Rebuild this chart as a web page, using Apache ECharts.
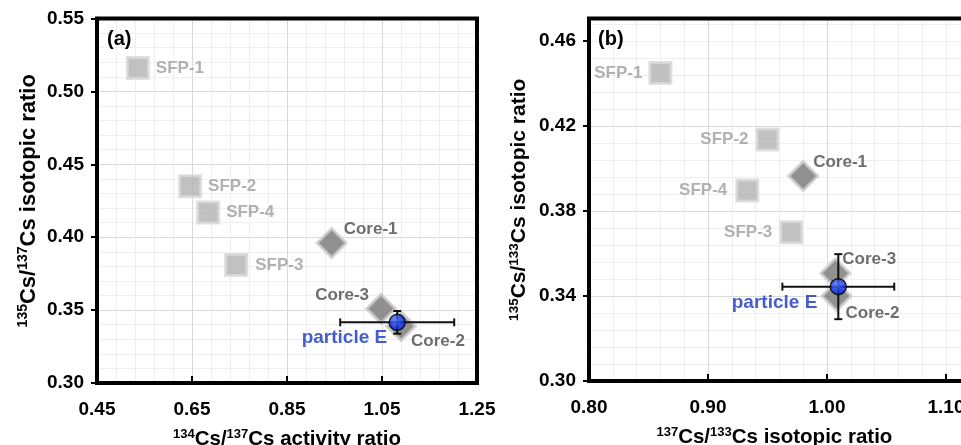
<!DOCTYPE html>
<html><head><meta charset="utf-8">
<script src="https://cdn.jsdelivr.net/npm/echarts@6/dist/echarts.min.js"></script>
<style>html,body{margin:0;padding:0;background:#fff}#c{width:961px;height:445px}</style>
</head><body><div id="c"></div><script>
// ---------- Panel (a): 134Cs/137Cs activity ratio vs 135Cs/137Cs isotopic ratio ----------
const namesA = ['SFP-1', 'SFP-2', 'SFP-4', 'SFP-3', 'Core-1', 'Core-3', 'Core-2'];
const xA = [0.536, 0.646, 0.684, 0.743, 0.944, 1.048, 1.090];
const yA = [0.516, 0.435, 0.417, 0.381, 0.396, 0.351, 0.339];
const particleA = [1.082, 0.3416];
const particleErrA = [0.12, 0.0078];
const xTicksA = [0.45, 0.65, 0.85, 1.05, 1.25];
const yTicksA = [0.30, 0.35, 0.40, 0.45, 0.50, 0.55];

// ---------- Panel (b): 137Cs/133Cs isotopic ratio vs 135Cs/133Cs isotopic ratio ----------
const namesB = ['SFP-1', 'SFP-2', 'SFP-4', 'SFP-3', 'Core-1', 'Core-3', 'Core-2'];
const xB = [0.860, 0.950, 0.933, 0.970, 0.980, 1.007, 1.008];
const yB = [0.445, 0.4137, 0.3896, 0.370, 0.3965, 0.3507, 0.340];
const particleB = [1.0095, 0.3444];
const particleErrB = [0.047, 0.0153];
const xTicksB = [0.80, 0.90, 1.00, 1.10];
const xMaxB = 1.12;
const yTicksB = [0.30, 0.34, 0.38, 0.42, 0.46];
const yMaxB = 0.4706;

const particleName = 'particle E';

// ---------- label placement (style, not data) ----------
const labPosA = {
  'SFP-1': ['left', 18, 0], 'SFP-2': ['left', 18, 0], 'SFP-4': ['left', 18, 0], 'SFP-3': ['left', 19, 0],
  'Core-1': ['left', 12, -14], 'Core-3': ['right', -12, -13], 'Core-2': ['left', 10, 15],
  'particle E': ['right', -10, 15]
};
const labPosB = {
  'SFP-1': ['right', -18, 0], 'SFP-2': ['right', -19, 0], 'SFP-4': ['right', -20, 0], 'SFP-3': ['right', -19, 0],
  'Core-1': ['left', 10, -14], 'Core-3': ['left', 7, -14], 'Core-2': ['left', 9, 17],
  'particle E': ['right', -21, 16]
};

const FONT = '"Liberation Sans", Arial, Helvetica, sans-serif';

function fmt(v) { return v.toFixed(2); }
function onTick(ticks) { return v => (ticks.some(t => Math.abs(t - v) < 1e-6) ? fmt(v) : ''); }

function buildPoints(names, xs, ys, pos, prefix) {
  const out = [];
  names.forEach((n, i) => {
    if (!n.startsWith(prefix)) return;
    const p = pos[n];
    out.push({
      name: n, value: [xs[i], ys[i]],
      label: { align: p[0], offset: [p[1], p[2]] }
    });
  });
  return out;
}

function xIdx(gi) { return gi === 0 ? 0 : 2; }
function yIdx(gi) { return gi === 0 ? 0 : 2; }

function sqSeries(gi, names, xs, ys, pos) {
  return {
    type: 'scatter', xAxisIndex: xIdx(gi), yAxisIndex: yIdx(gi),
    symbol: 'rect', symbolSize: 21,
    itemStyle: { color: '#b2b2b2', borderColor: '#d8d8d8', borderWidth: 3 },
    label: { show: true, position: 'inside', verticalAlign: 'middle', formatter: '{b}',
      fontFamily: FONT, fontWeight: 'bold', fontSize: 17, color: '#9e9e9e' },
    emphasis: { disabled: true },
    data: buildPoints(names, xs, ys, pos, 'SFP'), z: 3
  };
}
function dmSeries(gi, names, xs, ys, pos) {
  return {
    type: 'scatter', xAxisIndex: xIdx(gi), yAxisIndex: yIdx(gi),
    symbol: 'diamond', symbolSize: 29,
    itemStyle: { color: '#767676', borderColor: '#cdcdcd', borderWidth: 3 },
    label: { show: true, position: 'inside', verticalAlign: 'middle', formatter: '{b}',
      fontFamily: FONT, fontWeight: 'bold', fontSize: 17, color: '#4a4a4a' },
    emphasis: { disabled: true },
    data: buildPoints(names, xs, ys, pos, 'Core'), z: 3
  };
}
function errSeries(gi, p, e) {
  return {
    type: 'custom', xAxisIndex: xIdx(gi), yAxisIndex: yIdx(gi),
    coordinateSystem: 'cartesian2d',
    data: [[p[0], p[1], e[0], e[1]]],
    encode: { x: 0, y: 1 },
    z: 4, silent: true,
    renderItem: function (params, api) {
      const x = api.value(0), y = api.value(1), ex = api.value(2), ey = api.value(3);
      const l = api.coord([x - ex, y]), r = api.coord([x + ex, y]);
      const t = api.coord([x, y + ey]), b = api.coord([x, y - ey]);
      const cap = 4;
      const st = { stroke: '#111', lineWidth: 2, fill: null };
      const line = (x1, y1, x2, y2) => ({ type: 'line', shape: { x1, y1, x2, y2 }, style: st });
      return { type: 'group', children: [
        line(l[0], l[1], r[0], r[1]),
        line(l[0], l[1] - cap, l[0], l[1] + cap),
        line(r[0], r[1] - cap, r[0], r[1] + cap),
        line(t[0], t[1], b[0], b[1]),
        line(t[0] - cap, t[1], t[0] + cap, t[1]),
        line(b[0] - cap, b[1], b[0] + cap, b[1])
      ]};
    }
  };
}
function particleSeries(gi, p, pos) {
  const lp = pos[particleName];
  return {
    type: 'scatter', xAxisIndex: xIdx(gi), yAxisIndex: yIdx(gi),
    symbol: 'circle', symbolSize: 16,
    itemStyle: {
      color: { type: 'radial', x: 0.4, y: 0.35, r: 0.7,
        colorStops: [{ offset: 0, color: '#5b7cff' }, { offset: 0.6, color: '#1437f0' }, { offset: 1, color: '#0a22b8' }] },
      borderColor: '#000', borderWidth: 1.5
    },
    label: { show: true, position: 'inside', verticalAlign: 'middle', formatter: '{b}',
      fontFamily: FONT, fontWeight: 'bold', fontSize: 19, color: '#1533c4' },
    emphasis: { disabled: true },
    data: [{ name: particleName, value: p, label: { align: lp[0], offset: [lp[1], lp[2]] } }],
    z: 5
  };
}

const tickLabel = { fontFamily: FONT, fontWeight: 'bold', fontSize: 19, color: '#000' };
function nameStyle(size, sup, extra) {
  return Object.assign({
    fontFamily: FONT, fontWeight: 'bold', fontSize: size, color: '#000',
    rich: {
      s: { fontFamily: FONT, fontWeight: 'bold', fontSize: sup, color: '#000', verticalAlign: 'top', lineHeight: size + 3 },
      m: { fontFamily: FONT, fontWeight: 'bold', fontSize: size, color: '#000', lineHeight: size + 3 }
    }
  }, extra || {});
}
const majorSplit = { show: true, showMinLine: false, showMaxLine: false, lineStyle: { color: '#d9d9d9', width: 1 } };
const minorSplit = { show: true, lineStyle: { color: '#efefef', width: 1 } };
const minorHelper = { show: true, showMinLine: false, showMaxLine: false, lineStyle: { color: '#efefef', width: 1 } };
const xTick = { show: true, inside: true, length: 7, lineStyle: { color: '#000', width: 2 } };
const yTick = { show: true, inside: false, length: 6, lineStyle: { color: '#000', width: 2 } };

const option = {
  animation: false,
  backgroundColor: '#fff',
  grid: [
    { left: 97, top: 18.5, width: 380, height: 364.5, show: true, backgroundColor: 'transparent',
      borderColor: '#000', borderWidth: 4, z: 10, outerBoundsMode: 'none', containLabel: false },
    { left: 589, top: 18.5, width: 380.8, height: 362.5, show: true, backgroundColor: 'transparent',
      borderColor: '#000', borderWidth: 4, z: 10, outerBoundsMode: 'none', containLabel: false }
  ],
  xAxis: [
    { type: 'value', gridIndex: 0, position: 'bottom', min: xTicksA[0], max: xTicksA[xTicksA.length - 1],
      interval: xTicksA[1] - xTicksA[0],
      axisLine: { show: false }, axisTick: xTick,
      axisLabel: Object.assign({ margin: 17, formatter: fmt }, tickLabel),
      splitLine: majorSplit, minorTick: { show: false, splitNumber: 5 }, minorSplitLine: minorSplit,
      name: '{s|134}{m|Cs/}{s|137}{m|Cs activity ratio}', nameLocation: 'middle', nameGap: 45,
      nameTextStyle: nameStyle(20.5, 13) },
    // minor grid helper for panel (b) x
    { type: 'value', gridIndex: 1, position: 'bottom', min: xTicksB[0], max: xMaxB,
      interval: (xTicksB[1] - xTicksB[0]) / 5,
      axisLine: { show: false }, axisTick: { show: false }, axisLabel: { show: false },
      splitLine: minorHelper },
    { type: 'value', gridIndex: 1, position: 'bottom', min: xTicksB[0], max: xMaxB,
      interval: xTicksB[1] - xTicksB[0],
      axisLine: { show: false },
      axisTick: Object.assign({ customValues: xTicksB }, xTick),
      axisLabel: Object.assign({ margin: 17, customValues: xTicksB, formatter: onTick(xTicksB) }, tickLabel),
      splitLine: majorSplit,
      name: '{s|137}{m|Cs/}{s|133}{m|Cs isotopic ratio}', nameLocation: 'middle', nameGap: 45,
      nameTextStyle: nameStyle(20.5, 13, { padding: [0, 10, 0, 0] }) }
  ],
  yAxis: [
    { type: 'value', gridIndex: 0, position: 'left', min: yTicksA[0], max: yTicksA[yTicksA.length - 1],
      interval: yTicksA[1] - yTicksA[0],
      axisLine: { show: false }, axisTick: yTick,
      axisLabel: Object.assign({ margin: 13, formatter: fmt }, tickLabel),
      splitLine: majorSplit, minorTick: { show: false, splitNumber: 5 }, minorSplitLine: minorSplit,
      name: '{s|135}{m|Cs/}{s|137}{m|Cs isotopic ratio}', nameLocation: 'middle', nameGap: 56,
      nameRotate: 90, nameTextStyle: nameStyle(22, 14) },
    // minor grid helper for panel (b) y
    { type: 'value', gridIndex: 1, position: 'left', min: yTicksB[0], max: yMaxB,
      interval: (yTicksB[1] - yTicksB[0]) / 5,
      axisLine: { show: false }, axisTick: { show: false }, axisLabel: { show: false },
      splitLine: minorHelper },
    { type: 'value', gridIndex: 1, position: 'left', min: yTicksB[0], max: yMaxB,
      interval: yTicksB[1] - yTicksB[0],
      axisLine: { show: false },
      axisTick: Object.assign({ customValues: yTicksB }, yTick),
      axisLabel: Object.assign({ margin: 13, customValues: yTicksB, formatter: onTick(yTicksB) }, tickLabel),
      splitLine: majorSplit,
      name: '{s|135}{m|Cs/}{s|133}{m|Cs isotopic ratio}', nameLocation: 'middle', nameGap: 58,
      nameRotate: 90, nameTextStyle: nameStyle(21, 13.5) }
  ],
  graphic: [
    { type: 'text', left: 107, top: 29, z: 20,
      style: { text: '(a)', fontFamily: FONT, fontWeight: 'bold', fontSize: 20, fill: '#000' } },
    { type: 'text', left: 598, top: 29, z: 20,
      style: { text: '(b)', fontFamily: FONT, fontWeight: 'bold', fontSize: 20, fill: '#000' } }
  ],
  series: [
    sqSeries(0, namesA, xA, yA, labPosA),
    dmSeries(0, namesA, xA, yA, labPosA),
    errSeries(0, particleA, particleErrA),
    particleSeries(0, particleA, labPosA),
    sqSeries(1, namesB, xB, yB, labPosB),
    dmSeries(1, namesB, xB, yB, labPosB),
    errSeries(1, particleB, particleErrB),
    particleSeries(1, particleB, labPosB)
  ]
};

const chart = echarts.init(document.getElementById('c'), null, { renderer: 'canvas' });
chart.setOption(option);
</script></body></html>
